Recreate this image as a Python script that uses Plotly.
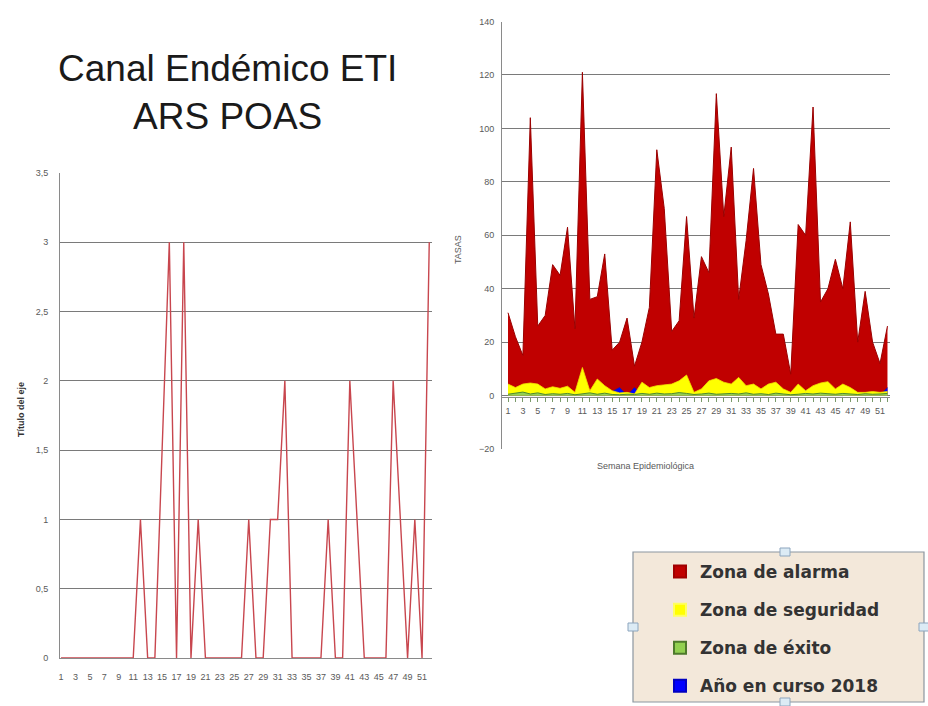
import plotly.graph_objects as go

W, H = 928, 706

# ---------------- data ----------------
semanas = list(range(1, 53))
tick_semanas = list(range(1, 52, 2))

# Año en curso 2018 (left chart, also blue series in right chart)
anio_2018 = [0, 0, 0, 0, 0, 0, 0, 0, 0, 0, 0,
             1, 0, 0, 1.5, 3, 0, 3, 0, 1, 0,
             0, 0, 0, 0, 0,
             1, 0, 0, 1, 1, 2, 0,
             0, 0, 0, 0,
             1, 0, 0, 2, 1, 0,
             0, 0, 0,
             2, 1, 0, 1, 0, 3]

zona_alarma = [31, 22, 15, 104, 26, 30, 49, 45, 63, 25,
               121, 36, 37, 53, 17, 20, 29, 11, 20, 33,
               92, 70, 24, 28, 67, 29, 52, 46, 113, 67,
               93, 36, 58, 85, 49, 38, 23, 23, 8, 64,
               60, 108, 35, 40, 51, 40, 65, 20, 39, 20,
               12, 26]

zona_seguridad = [4.3, 3, 4.3, 4.7, 4.3, 2.5, 3.3, 2.7, 3.5, 1.2,
                  10.5, 1.8, 6.2, 3.7, 1.8, 1, 1.2, 0.6, 5, 3,
                  3.7, 4, 4.3, 5.5, 7.7, 1.2, 2.5, 5.5, 6.4, 5,
                  4.3, 6.8, 3.7, 4.3, 2.5, 4.3, 5, 2.5, 1.2, 4.3,
                  1.8, 3.7, 4.7, 5.2, 2.5, 4.3, 3, 1.2, 1.2, 1.5,
                  1.2, 1.5]

zona_exito = [0.5, 0.8, 1.3, 0.6, 1.0, 0.4, 0.7, 0.5, 0.8, 0.3,
              0.6, 1.0, 0.5, 0.9, 0.4, 0.3, 0.5, 0.4, 0.8, 0.5,
              0.9, 0.6, 0.7, 1.1, 0.8, 0.4, 0.6, 0.9, 0.5, 0.7,
              0.8, 0.6, 1.0, 0.5, 0.7, 0.4, 0.9, 0.6, 0.3, 0.5,
              0.8, 0.6, 0.9, 0.7, 0.5, 0.8, 0.6, 0.4, 0.7, 0.5,
              0.6, 0.8]

left_yticks = [0, 0.5, 1, 1.5, 2, 2.5, 3, 3.5]
right_yticks = [-20, 0, 20, 40, 60, 80, 100, 120, 140]

legend_names = ["Zona de alarma", "Zona de seguridad", "Zona de éxito", "Año en curso 2018"]

# ---------------- helpers ----------------
def px(x):
    return x / W

def py(y):
    return 1 - y / H

RED = "#C00000"
YELLOW = "#FFFF00"
GREEN = "#92D050"
BLUE = "#0000FF"
GRID = "#7a7a7a"
TICKFONT = dict(family="Liberation Sans, Arial, sans-serif", size=9, color="#595959")

fig = go.Figure()

# ---------------- left chart ----------------
fig.add_trace(go.Scatter(
    x=semanas, y=anio_2018, mode="lines",
    line=dict(color="#C8464E", width=1.4),
    xaxis="x", yaxis="y", showlegend=False, hoverinfo="x+y"))

# ---------------- right chart ----------------
fig.add_trace(go.Scatter(
    x=semanas, y=zona_alarma, mode="lines", fill="tozeroy",
    line=dict(color="#9a0000", width=1), fillcolor=RED,
    xaxis="x2", yaxis="y2", showlegend=False))
fig.add_trace(go.Scatter(
    x=semanas, y=anio_2018, mode="lines", fill="tozeroy",
    line=dict(color="#1a1aa0", width=0.8), fillcolor=BLUE,
    xaxis="x2", yaxis="y2", showlegend=False))
fig.add_trace(go.Scatter(
    x=semanas, y=zona_seguridad, mode="lines", fill="tozeroy",
    line=dict(color="#f0e000", width=0.8), fillcolor=YELLOW,
    xaxis="x2", yaxis="y2", showlegend=False))
fig.add_trace(go.Scatter(
    x=semanas, y=zona_exito, mode="lines", fill="tozeroy",
    line=dict(color="#4E8A2C", width=1), fillcolor=GREEN,
    xaxis="x2", yaxis="y2", showlegend=False))

# legend entries
leg_styles = [
    dict(color=RED, line=dict(color="#a00000", width=1)),
    dict(color=YELLOW, line=dict(color="#ffff60", width=1)),
    dict(color=GREEN, line=dict(color="#4E7A2C", width=2)),
    dict(color=BLUE, line=dict(color="#0000c0", width=1)),
]
for i, (name, st) in enumerate(zip(legend_names, leg_styles)):
    fig.add_trace(go.Scatter(
        x=[None], y=[None], mode="markers", name=name,
        marker=dict(symbol="square", size=14, **st),
        legendgroup=f"g{i}", xaxis="x2", yaxis="y2"))

# ---------------- layout ----------------
left_dom_y = [py(658), py(173)]
right_dom_y = [py(449), py(21.5)]
right_zero_pos = py(396.7)

fig.update_layout(
    width=W, height=H,
    margin=dict(l=0, r=0, t=0, b=0, autoexpand=False),
    paper_bgcolor="white", plot_bgcolor="white",
    separators=",.",
    font=dict(family="Liberation Sans, Arial, sans-serif"),
    xaxis=dict(domain=[px(60), px(432)], range=[0.86, 52.38],
               tickvals=tick_semanas, ticks="", showgrid=False,
               showline=True, linecolor="#8a8a8a", linewidth=1,
               zeroline=False, tickfont=TICKFONT, ticklabelstandoff=10,
               anchor="y"),
    yaxis=dict(domain=left_dom_y, range=[0, 3.5],
               tickvals=left_yticks, showgrid=True, gridcolor=GRID, gridwidth=1,
               showline=True, linecolor="#8a8a8a", linewidth=1,
               zeroline=False, tickfont=TICKFONT, ticklabelstandoff=9,
               anchor="x"),
    xaxis2=dict(domain=[px(502), px(890)], range=[0.194, 52.34],
                tickvals=tick_semanas, ticks="outside", ticklen=4, tickcolor="#7a9a6a",
                minor=dict(dtick=1, tick0=0, ticks="outside", ticklen=4, tickcolor="#7a9a6a"),
                showgrid=False, showline=True, linecolor="#8a8a8a", linewidth=1,
                zeroline=False, tickfont=TICKFONT, ticklabelstandoff=1,
                anchor="free", position=right_zero_pos),
    yaxis2=dict(domain=right_dom_y, range=[-20, 140],
                tickvals=right_yticks, showgrid=True, gridcolor=GRID, gridwidth=1,
                showline=True, linecolor="#8a8a8a", linewidth=1,
                zeroline=False, tickfont=TICKFONT, ticklabelstandoff=5,
                anchor="x2"),
    legend=dict(x=px(660), y=py(704), xanchor="left", yanchor="bottom",
                bgcolor="rgba(0,0,0,0)", borderwidth=0,
                traceorder="grouped", tracegroupgap=13,
                font=dict(family="DejaVu Sans, Verdana, sans-serif", size=17,
                          color="#333333", weight="bold"),
                itemsizing="constant"),
)

# legend box background
fig.add_shape(type="rect", xref="paper", yref="paper",
              x0=px(633), x1=px(924), y0=py(702), y1=py(552),
              fillcolor="#F3E8DA", line=dict(color="#8C96A0", width=1.2),
              layer="below")
# selection handles
for (hx, hy) in [(785, 552), (785, 702), (633, 627), (924, 627)]:
    fig.add_shape(type="rect", xref="paper", yref="paper",
                  x0=px(hx - 5), x1=px(hx + 5), y0=py(hy + 4), y1=py(hy - 4),
                  fillcolor="#DCEBF5", line=dict(color="#8CA5BE", width=1))

# titles / axis titles
fig.add_annotation(text="Canal Endémico ETI<br>ARS POAS", xref="paper", yref="paper",
                   x=px(227), y=py(93), xanchor="center", yanchor="middle",
                   showarrow=False, align="center",
                   font=dict(family="Liberation Sans, Arial, sans-serif", size=37, color="#1a1a1a"))
fig.add_annotation(text="<b>Título del eje</b>", xref="paper", yref="paper",
                   x=px(14), y=py(410), textangle=-90, showarrow=False,
                   font=dict(family="Liberation Sans, Arial, sans-serif", size=9, color="#333333"))
fig.add_annotation(text="TASAS", xref="paper", yref="paper",
                   x=px(458), y=py(250), textangle=-90, showarrow=False,
                   font=dict(family="Liberation Sans, Arial, sans-serif", size=9, color="#595959"))
fig.add_annotation(text="Semana Epidemiológica", xref="paper", yref="paper",
                   x=px(696), y=py(466), showarrow=False,
                   font=dict(family="Liberation Sans, Arial, sans-serif", size=9, color="#595959"))

fig.write_html("out.html", config={"displayModeBar": False},
               post_script="document.body.style.margin='0';document.body.style.padding='0';")
